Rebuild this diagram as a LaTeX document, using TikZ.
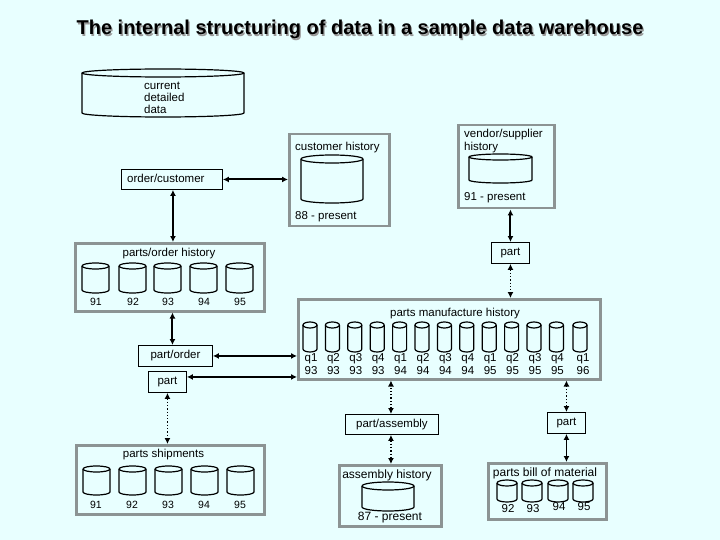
\documentclass[tikz,border=0pt]{standalone}
\usepackage{fontspec}
\setmainfont{Liberation Sans}
\usetikzlibrary{arrows.meta}
\definecolor{bgc}{RGB}{232,255,255}
\definecolor{boxgray}{RGB}{140,148,148}
\newcommand\cyl[5]{%
  \pgfmathsetmacro\cylrx{((#3)-(#1))/2}%
  \draw[cylline] (#1,#2+#5) -- (#1,#4-#5) arc[start angle=180,end angle=360,x radius=\cylrx pt,y radius=#5pt] -- (#3,#2+#5);
  \draw[cylline] ({((#1)+(#3))/2},#2+#5) ellipse[x radius=\cylrx pt,y radius=#5pt];
}
\tikzset{
  cylline/.style={line width=1.2pt, draw=black, line join=round},
  gbox/.style={draw=boxgray, line width=2.5pt, inner sep=0pt, anchor=north west},
  bbox/.style={draw=black, line width=0.9pt, inner sep=0pt, anchor=north west, font=\fontsize{11.5}{13}\selectfont},
  txt/.style={inner sep=0pt, font=\fontsize{11.5}{13}\selectfont},
  num/.style={inner sep=0pt, anchor=base, font=\fontsize{10.5}{12}\selectfont},
  qnum/.style={inner sep=0pt, anchor=base, font=\fontsize{11.5}{13}\selectfont},
  tip/.style={{Latex[length=6pt,width=6pt]}-{Latex[length=6pt,width=6pt]}},
  thickarr/.style={tip, line width=2pt},
  thinarr/.style={tip, line width=1.2pt},
  dotarr/.style={tip, line width=1.3pt, dotted},
}
\begin{document}
\begin{tikzpicture}[x=1pt,y=-1pt]
\fill[bgc] (0,0) rectangle (720,540);
\useasboundingbox (0,0) rectangle (720,540);
% title
\node[inner sep=0pt, anchor=base, text=black!40, font=\fontsize{20}{24}\selectfont\bfseries] (titleshadow) at (361.3,36.3) {The internal structuring of data in a sample data warehouse};
\node[inner sep=0pt, anchor=base, font=\fontsize{20}{24}\selectfont\bfseries] (title) at (360,35) {The internal structuring of data in a sample data warehouse};
% current detailed data
\cyl{82}{69}{244}{117}{4}
\node[txt, anchor=base west] (cdd1) at (144,89.3) {current};
\node[txt, anchor=base west] (cdd2) at (144,101.7) {detailed};
\node[txt, anchor=base west] (cdd3) at (144,113.3) {data};
% boxes
\node[bbox, minimum width=101, minimum height=20] (oc) at (121,169) {};
\node[txt, anchor=base west] (octxt) at (127,183) {order/customer};
\node[gbox, minimum width=100, minimum height=92] (ch) at (288,133) {};
\node[txt, anchor=base west] (chl) at (295,151) {customer history};
\cyl{301}{155}{363}{203}{4}
\node[txt, anchor=base west] (chy) at (295,220) {88 - present};
\node[gbox, minimum width=96, minimum height=83] (vs) at (457,124) {};
\node[txt, anchor=base west] (vsl1) at (464,137.7) {vendor/supplier};
\node[txt, anchor=base west] (vsl2) at (464,150.7) {history};
\cyl{469}{154}{532}{183}{3}
\node[txt, anchor=base west] (vsy) at (464,200.5) {91 - present};
\node[bbox, minimum width=38, minimum height=21] (pr1) at (491,242) {part};
% parts/order history
\node[gbox, minimum width=189, minimum height=68] (poh) at (74,242) {};
\node[txt, anchor=base] (pohl) at (169,256) {parts/order history};
\foreach \a/\t in {82/91,119/92,154/93,190/94,226/95}{
  \cyl{\a}{263}{\a+27}{293}{3}
  \node[num] (poh\t) at (\a+14,305.5) {\t};
}
\node[bbox, minimum width=74, minimum height=21] (po) at (138,345) {part/order};
\node[bbox, minimum width=38, minimum height=21] (pl) at (148,371) {part};
% parts manufacture history
\node[gbox, minimum width=302, minimum height=80] (pmh) at (297,298) {};
\node[txt, anchor=base] (pmhl) at (455,316.7) {parts manufacture history};
\foreach \i/\q/\yr in {0/q1/93,1/q2/93,2/q3/93,3/q4/93,4/q1/94,5/q2/94,6/q3/94,7/q4/94,8/q1/95,9/q2/95,10/q3/95,11/q4/95}{
  \pgfmathsetmacro\xa{303+22.4*\i}
  \cyl{\xa}{322}{\xa+14}{352}{3}
  \node[qnum] (pmhq\i) at (\xa+8,361.5) {\q};
  \node[qnum] (pmhy\i) at (\xa+8,374.5) {\yr};
}
\cyl{573}{322}{587}{352}{3}
\node[qnum] (pmhq12) at (583,361.5) {q1};
\node[qnum] (pmhy12) at (583,374.5) {96};
\node[bbox, minimum width=93, minimum height=20] (pa) at (345,414) {part/assembly};
\node[bbox, minimum width=38, minimum height=21] (pr2) at (547,412) {part};
% assembly history
\node[gbox, minimum width=102, minimum height=61] (ah) at (338,464) {};
\node[txt, anchor=base, font=\fontsize{12}{14}\selectfont] (ahl) at (387,478.3) {assembly history};
\cyl{362}{482}{414}{511}{4}
\node[txt, anchor=base, font=\fontsize{12}{14}\selectfont] (ahy) at (390,520.7) {87 - present};
% parts bill of material
\node[gbox, minimum width=118, minimum height=56] (pb) at (487,462) {};
\node[txt, anchor=base, font=\fontsize{12}{14}\selectfont] (pbl) at (545,476.7) {parts bill of material};
\foreach \a/\t/\b in {497/92/512,522/93/512,548/94/510,573/95/510}{
  \cyl{\a}{480}{\a+20}{502}{3}
  \node[num, font=\fontsize{11.5}{13}\selectfont] (pb\t) at (\a+11,\b) {\t};
}
% parts shipments
\node[gbox, minimum width=188, minimum height=69] (ps) at (75,444) {};
\node[txt, anchor=base] (psl) at (163.5,457.7) {parts shipments};
\foreach \a/\t in {83/91,119/92,155/93,191/94,227/95}{
  \cyl{\a}{466}{\a+27}{495}{3}
  \node[num] (ps\t) at (\a+13,508) {\t};
}
% connectors
\draw[thickarr] (oc.east) -- (oc.east -| ch.west);
\draw[thickarr] ([xshift=1pt]oc.south) -- ([xshift=1pt]oc.south |- poh.north);
\draw[thickarr] (pr1.north) -- (pr1.north |- vs.south);
\draw[dotarr] (pr1.south) -- (pr1.south |- pmh.north);
\draw[thickarr] ([xshift=-3pt]po.north) -- ([xshift=-3pt]po.north |- poh.south);
\draw[thickarr] (po.east) -- (po.east -| pmh.west);
\draw[thinarr] ([yshift=5pt]pl.east) -- ([yshift=5pt]pl.east -| pmh.west);
\draw[dotarr] (pl.south) -- (pl.south |- ps.north);
\draw[dotarr] ([xshift=-1pt]pa.north) -- ([xshift=-1pt]pa.north |- pmh.south);
\draw[dotarr] (pr2.north) -- (pr2.north |- pmh.south);
\draw[dotarr] ([xshift=-1pt]pa.south) -- ([xshift=-1pt]pa.south |- ah.north);
\draw[thickarr, line width=1.6pt] (pr2.south) -- (pr2.south |- pb.north);
\end{tikzpicture}
\end{document}
